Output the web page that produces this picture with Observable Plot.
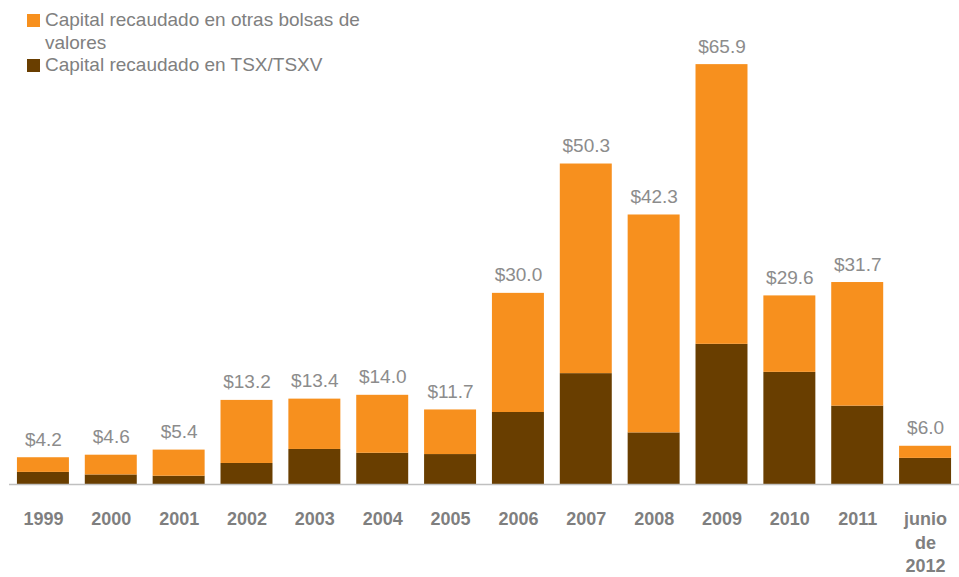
<!DOCTYPE html>
<html><head><meta charset="utf-8">
<script src="https://cdn.jsdelivr.net/npm/d3@7"></script>
<script src="https://cdn.jsdelivr.net/npm/@observablehq/plot@0.6"></script>
<style>
html,body{margin:0;padding:0;background:#fff;}
#wrap{position:relative;width:959px;height:577px;font-family:"Liberation Sans",Arial,sans-serif;}
#legend{position:absolute;left:27px;top:9px;color:#808080;font-size:19px;line-height:22.5px;}
.item{display:flex;align-items:flex-start;}
.sw{width:13px;height:13px;margin-top:5px;margin-right:5px;flex:none;}
</style>
</head><body>
<div id="wrap"><div id="chart"></div><div id="legend"></div></div>
<script>
const categories = ["1999","2000","2001","2002","2003","2004","2005","2006","2007","2008","2009","2010","2011","junio\nde\n2012"];
const totals = [4.2,4.6,5.4,13.2,13.4,14.0,11.7,30.0,50.3,42.3,65.9,29.6,31.7,6.0];
const tsx = [1.9,1.5,1.3,3.3,5.5,4.9,4.7,11.3,17.4,8.1,22.0,17.6,12.3,4.1];
const seriesNames = ["Capital recaudado en TSX/TSXV","Capital recaudado en otras bolsas de valores"];
const seriesColors = ["#693e00","#f7901e"];

const data = categories.flatMap((c,i)=>[
  {cat:c, series:seriesNames[0], value:tsx[i]},
  {cat:c, series:seriesNames[1], value:+(totals[i]-tsx[i]).toFixed(1)}
]);
const totalsData = categories.map((c,i)=>({cat:c,total:totals[i]}));

const chart = Plot.plot({
  width:959, height:577,
  marginLeft:9, marginRight:0, marginTop:38, marginBottom:93,
  style:{fontFamily:'"Liberation Sans",Arial,sans-serif', background:"#fff"},
  x:{domain:categories, paddingInner:0.234, paddingOuter:0.117, round:false, axis:null, label:null},
  y:{domain:[0,70], axis:null},
  color:{domain:seriesNames, range:seriesColors},
  marks:[
    Plot.barY(data,{x:"cat", y:"value", fill:"series"}),
    Plot.ruleY([0],{stroke:"#c0c0c0", strokeWidth:1.5}),
    Plot.text(totalsData,{x:"cat", y:"total", text:d=>"$"+d.total.toFixed(1), lineAnchor:"bottom", dy:-12, fill:"#8c8c8c", fontSize:19}),
    Plot.axisX({tickSize:0, tickPadding:24, fontSize:18, fontWeight:"bold", fill:"#7f7f7f", lineHeight:1.3, label:null})
  ]
});
document.getElementById("chart").appendChild(chart);

const legendOrder = [1,0];
const lg = document.getElementById("legend");
const labelsHtml = ["Capital recaudado en TSX/TSXV","Capital recaudado en otras bolsas de<br>valores"];
legendOrder.forEach(i=>{
  const it = document.createElement("div"); it.className="item";
  const sw = document.createElement("div"); sw.className="sw"; sw.style.background=seriesColors[i];
  const tx = document.createElement("div"); tx.innerHTML = labelsHtml[i];
  it.appendChild(sw); it.appendChild(tx); lg.appendChild(it);
});
</script>
</body></html>
